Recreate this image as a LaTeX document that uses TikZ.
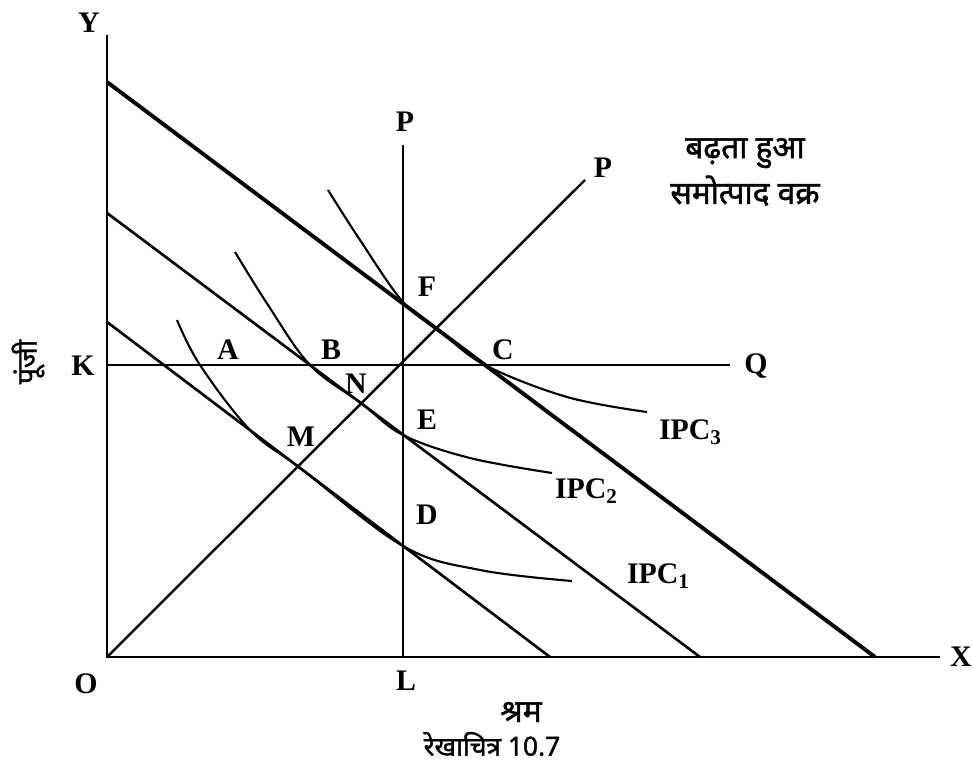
\documentclass[tikz,border=0pt]{standalone}
\usepackage{fontspec}
\setmainfont{Liberation Serif}
\newfontfamily\hindi[Script=Devanagari, FakeBold=1.5]{Noto Sans}
\usetikzlibrary{calc}
\newcommand{\ipcsub}[1]{\raisebox{-0.35ex}{\fontsize{12}{13}\selectfont #1}}

\begin{document}
\begin{tikzpicture}[
  x=0.02cm, y=-0.02cm,
  axis/.style={line width=1.4pt},
  budget/.style={line width=1.5pt},
  budgetthick/.style={line width=2.2pt},
  isoq/.style={line width=1.2pt},
  lbl/.style={font=\bfseries\fontsize{17}{20}\selectfont, inner sep=1pt},
  hin/.style={font=\hindi\fontsize{18}{26}\selectfont, align=center, inner sep=1pt}
]
  \useasboundingbox (0,0) rectangle (973,767);

  % axes
  \coordinate (O) at (107,657);
  \coordinate (ytop) at (107,35);
  \coordinate (xend) at (940,657);
  \draw[axis] (ytop) -- (O) -- (xend);

  % vertical line PL, ray OP, horizontal KQ
  \coordinate (ptop) at (403,145);
  \coordinate (L) at (403,657);
  \coordinate (pray) at (585,180);
  \coordinate (K) at (107,365);
  \coordinate (Q) at (730,365);
  \draw[axis] (ptop) -- (L);
  \draw[axis] (O) -- (pray);
  \draw[axis] (K) -- (Q);

  % budget lines
  \coordinate (b1a) at (107,82);  \coordinate (b1b) at (875,657);
  \coordinate (b2a) at (107,213); \coordinate (b2b) at (700,657);
  \coordinate (b3a) at (107,322); \coordinate (b3b) at (550,657);
  \draw[budgetthick] (b1a) -- (b1b);
  \draw[budget] (b2a) -- (b2b);
  \draw[budget] (b3a) -- (b3b);

  % isoquants
  \draw[isoq] plot[smooth, tension=0.6] coordinates
    {(177,320) (200,365) (250,430) (300,468) (403,546) (480,570) (572,581)};
  \draw[isoq] plot[smooth, tension=0.6] coordinates
    {(235,252) (268,305) (310,365) (361,403) (403,435) (470,458) (552,473)};
  \draw[isoq] plot[smooth, tension=0.6] coordinates
    {(328,190) (360,240) (403,302) (440,331) (485,365) (567,397) (647,412)};

  % labels
  \node[lbl] (ylbl) at (89,23) {Y};
  \node[lbl] (xlbl) at (961,657) {X};
  \node[lbl] (olbl) at (86,684) {O};
  \node[lbl] (klbl) at (83,366) {K};
  \node[lbl] (qlbl) at (756,366) {Q};
  \node[lbl] (p1lbl) at (405,122) {P};
  \node[lbl] (p2lbl) at (603,168) {P};
  \node[lbl] (llbl) at (406,681) {L};
  \node[lbl] (albl) at (228,350) {A};
  \node[lbl] (blbl) at (331,350) {B};
  \node[lbl] (clbl) at (503,350) {C};
  \node[lbl] (nlbl) at (356,384) {N};
  \node[lbl] (mlbl) at (301,437) {M};
  \node[lbl] (elbl) at (427,420) {E};
  \node[lbl] (dlbl) at (427,515) {D};
  \node[lbl] (flbl) at (427,287) {F};
  \node[lbl] (ipc3) at (690,432) {IPC\ipcsub{3}};
  \node[lbl] (ipc2) at (586,491) {IPC\ipcsub{2}};
  \node[lbl] (ipc1) at (658,576) {IPC\ipcsub{1}};

  \node[hin] (curvenote) at (745,172) {बढ़ता हुआ\\समोत्पाद वक्र};
  \node[hin, font=\hindi\fontsize{16}{18}\selectfont, rotate=90] (capital) at (28,362) {पूंजी};
  \node[hin] (labour) at (521,712) {श्रम};
  \node[hin, font=\hindi\fontsize{15}{18}\selectfont] (caption) at (492,744) {रेखाचित्र 10.7};
\end{tikzpicture}
\end{document}
